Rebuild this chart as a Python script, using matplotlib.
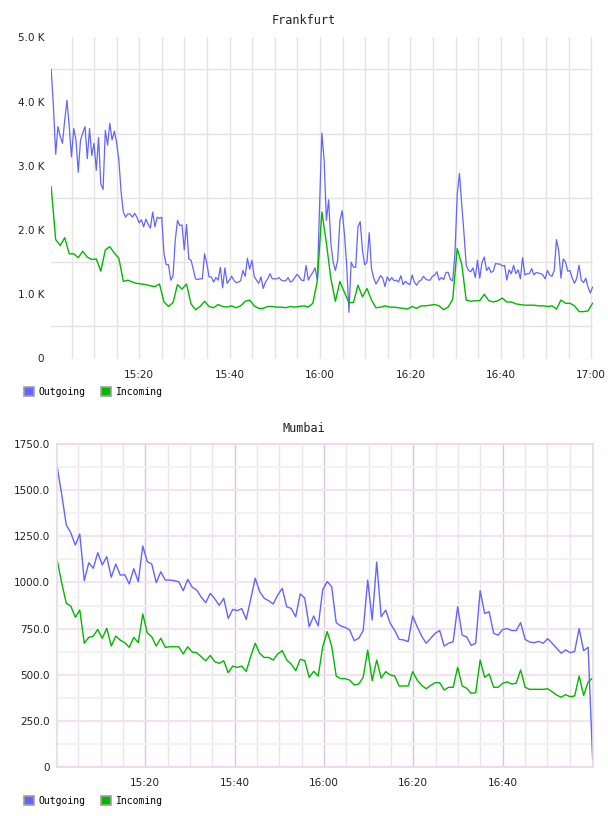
import numpy as np
import matplotlib
matplotlib.use("Agg")
import matplotlib.pyplot as plt
from matplotlib.patches import Patch
from matplotlib.ticker import FuncFormatter

# Frankfurt traffic in K; outgoing sampled every 30 s, incoming every minute
fra_out = [
    4.50, 3.92, 3.18, 3.61, 3.46, 3.35, 3.71, 4.02, 3.61, 3.14,
    3.58, 3.40, 2.90, 3.40, 3.51, 3.61, 3.11, 3.58, 3.16, 3.35,
    2.93, 3.44, 2.72, 2.63, 3.55, 3.32, 3.66, 3.40, 3.54, 3.36,
    3.09, 2.59, 2.28, 2.20, 2.25, 2.25, 2.20, 2.26, 2.20, 2.11,
    2.16, 2.05, 2.17, 2.09, 2.03, 2.28, 2.05, 2.20, 2.18, 2.20,
    1.63, 1.46, 1.46, 1.22, 1.28, 1.84, 2.15, 2.07, 2.08, 1.69,
    2.09,
    1.55, 1.53, 1.39, 1.24, 1.23, 1.24, 1.24, 1.63, 1.48, 1.27,
    1.27, 1.19, 1.26, 1.22, 1.42, 1.10, 1.41, 1.17, 1.22, 1.28,
    1.22, 1.18, 1.19, 1.21, 1.37, 1.28, 1.56, 1.39, 1.53, 1.28,
    1.22, 1.17, 1.27, 1.09, 1.19, 1.24, 1.32, 1.24, 1.24, 1.24,
    1.26, 1.22, 1.21, 1.21, 1.26, 1.19, 1.21, 1.26, 1.31, 1.27,
    1.22, 1.21, 1.45, 1.22, 1.29, 1.34, 1.41, 1.22,
    2.40,
    3.51, 3.09, 2.15, 2.47, 1.79, 1.50, 1.37, 1.53, 2.15, 2.30,
    1.94, 1.45, 0.72, 1.50, 1.42, 1.42, 2.05, 2.13, 1.68, 1.46,
    1.50, 1.96, 1.40, 1.25, 1.16, 1.22, 1.29, 1.25, 1.12, 1.27,
    1.21, 1.26, 1.21, 1.22, 1.19, 1.29, 1.15, 1.20, 1.17, 1.15,
    1.30, 1.19, 1.14, 1.20, 1.22, 1.28, 1.24, 1.22, 1.22, 1.28,
    1.30, 1.35, 1.22, 1.26, 1.23, 1.34, 1.34, 1.23, 1.21,
    1.63, 2.55, 2.88, 2.40, 1.95, 1.45, 1.37, 1.35, 1.41, 1.26,
    1.53, 1.25, 1.50, 1.58, 1.37, 1.42, 1.34, 1.36, 1.48, 1.47,
    1.47, 1.44, 1.45, 1.22, 1.38, 1.32, 1.45, 1.32, 1.38, 1.24,
    1.57, 1.30, 1.32, 1.32, 1.40, 1.30, 1.34, 1.33, 1.32, 1.30,
    1.24, 1.37, 1.30, 1.28, 1.37, 1.85, 1.68, 1.25, 1.55, 1.50,
    1.36, 1.37, 1.25, 1.17, 1.25, 1.45, 1.22, 1.18, 1.25, 1.11,
    1.02, 1.11,
]
fra_in = [
    2.67, 1.85, 1.76, 1.88, 1.63, 1.63, 1.57, 1.67, 1.58, 1.54,
    1.55, 1.36, 1.69, 1.74, 1.64, 1.56, 1.20, 1.22, 1.19, 1.17,
    1.16, 1.15, 1.13, 1.12, 1.16, 0.88, 0.81, 0.87, 1.15, 1.08,
    1.16, 0.85, 0.76, 0.81, 0.89, 0.81, 0.79, 0.84, 0.81, 0.80,
    0.82, 0.79, 0.82, 0.89, 0.91, 0.82, 0.78, 0.78, 0.81, 0.81,
    0.80, 0.80, 0.79, 0.81, 0.80, 0.81, 0.82, 0.80, 0.86, 1.21,
    2.28, 1.80, 1.24, 0.89, 1.20, 1.03, 0.87, 0.87, 1.14, 0.96,
    1.09, 0.91, 0.79, 0.80, 0.82, 0.80, 0.80, 0.79, 0.78, 0.77,
    0.81, 0.78, 0.82, 0.82, 0.83, 0.84, 0.82, 0.76, 0.80, 0.92,
    1.71, 1.47, 0.91, 0.89, 0.90, 0.90, 1.00, 0.90, 0.88, 0.90,
    0.94, 0.88, 0.88, 0.85, 0.84, 0.83, 0.83, 0.83, 0.82, 0.82,
    0.81, 0.82, 0.77, 0.91, 0.86, 0.86, 0.82, 0.73, 0.73, 0.74,
    0.86,
]
fra_t0, fra_t1 = 0.5, 120.3      # minutes after 15:00

# Mumbai, one sample per minute
mum_out = [
    1625, 1475, 1312, 1270, 1203, 1263, 1010, 1107, 1077, 1162,
    1095, 1140, 1028, 1100, 1040, 1042, 992, 1075, 1004, 1198,
    1113, 1100, 999, 1058, 1013, 1013, 1010, 1004, 955, 1017,
    974, 959, 920, 890, 941, 912, 876, 914, 805, 854,
    847, 858, 800, 910, 1023, 950, 914, 901, 883, 932,
    968, 868, 859, 814, 938, 915,
    760, 818, 764, 960, 1005, 977, 782, 764, 756, 742,
    684, 697, 739, 1013, 796, 1111, 814, 850, 778, 740,
    691, 688, 679, 818, 760, 709, 670, 697, 724, 739,
    655, 670, 679, 869, 714, 705, 659, 670, 955, 832,
    841, 724, 714, 745, 750, 739, 739, 782, 691, 677,
    673, 680, 670, 695, 670, 643, 616, 634, 619, 625,
    750, 630, 648, 40,
]
mum_in = [
    1118, 996, 887, 872, 811, 850, 670, 702, 709, 745,
    697, 751, 655, 709, 687, 673, 648, 702, 673, 829,
    727, 705, 655, 697, 648, 651, 651, 651, 612, 651,
    622, 619, 597, 575, 604, 570, 561, 575, 510, 546,
    539, 546, 517, 600, 670, 615, 593, 593, 579, 612,
    630, 579, 557, 521, 583, 576,
    485, 518, 492, 651, 733, 655, 492, 478, 478, 470,
    443, 449, 485, 633, 467, 579, 481, 516, 498, 492,
    438, 438, 438, 516, 470, 442, 423, 442, 456, 456,
    416, 431, 431, 540, 438, 426, 398, 402, 579, 485,
    503, 431, 431, 453, 460, 449, 453, 525, 431, 420,
    420, 420, 420, 423, 407, 389, 377, 391, 380, 384,
    492, 387, 460, 481,
]
mum_t0, mum_t1 = 0.3, 120.15

fra_yticks = [0, 1, 2, 3, 4, 5]
fra_ylabels = ["0", "1.0 K", "2.0 K", "3.0 K", "4.0 K", "5.0 K"]
mum_yticks = [0, 250, 500, 750, 1000, 1250, 1500, 1750]
mum_ylabels = ["0", "250.0", "500.0", "750.0", "1000.0", "1250.0", "1500.0", "1750.0"]

c_out = "#6464ff"
c_in = "#00b800"

W, H = 608, 816
fig = plt.figure(figsize=(W / 100, H / 100), dpi=100)


def px_axes(l, t, r, b):
    return fig.add_axes([l / W, 1 - b / H, (r - l) / W, (b - t) / H])


def hhmm(m, _):
    m = int(round(m))
    return "%d:%02d" % (15 + m // 60, m % 60)


def legend_at(y):
    handles = [Patch(facecolor=c_out, edgecolor="#a0a0a0", lw=1.2, label="Outgoing"),
               Patch(facecolor=c_in, edgecolor="#a0a0a0", lw=1.2, label="Incoming")]
    fig.legend(handles=handles, loc="center left", bbox_to_anchor=(24 / W, 1 - y / H),
               ncol=2, frameon=False, prop={"family": "DejaVu Sans Mono", "size": 7},
               handlelength=1.0, handleheight=1.0, handletextpad=0.5,
               columnspacing=1.6, borderpad=0, borderaxespad=0)


# ---- Frankfurt
ax1 = px_axes(51, 37.3, 593, 358.5)
ax1.plot(np.linspace(fra_t0, fra_t1, len(fra_out)), fra_out, color=c_out, lw=0.9)
ax1.plot(np.linspace(fra_t0, fra_t1, len(fra_in)), fra_in, color=c_in, lw=1.0)
ax1.set_xlim(0.46, 120.4)
ax1.set_ylim(0, 5)
ax1.set_xticks(range(20, 121, 20))
ax1.set_xticks(range(5, 121, 5), minor=True)
ax1.xaxis.set_major_formatter(FuncFormatter(hhmm))
ax1.set_yticks(fra_yticks)
ax1.set_yticklabels(fra_ylabels)
ax1.set_yticks(np.arange(0.5, 5, 1), minor=True)
ax1.grid(True, which="both", axis="x", color="#e4e4e4", lw=1)
ax1.grid(True, which="minor", axis="y", color="#e4e4e4", lw=1)
ax1.set_axisbelow(True)
for s in ax1.spines.values():
    s.set_visible(False)
ax1.tick_params(which="both", length=0, labelsize=7.5, colors="#222222")
ax1.tick_params(axis="x", pad=8)
ax1.tick_params(axis="y", pad=5)
fig.text(0.5, 1 - 20 / H, "Frankfurt", ha="center", va="center",
         family="DejaVu Sans Mono", fontsize=8.5, color="#222222")
legend_at(392)

# ---- Mumbai
ax2 = px_axes(56.7, 444.3, 593.3, 766.7)
ax2.plot(np.linspace(mum_t0, mum_t1, len(mum_out)), mum_out, color=c_out, lw=1.0)
ax2.plot(np.linspace(mum_t0, mum_t1, len(mum_in)), mum_in, color=c_in, lw=1.0)
ax2.set_xlim(0.17, 120.3)
ax2.set_ylim(0, 1750)
ax2.set_xticks(range(20, 101, 20))
ax2.set_xticks([m for m in range(5, 121, 5) if m % 20], minor=True)
ax2.xaxis.set_major_formatter(FuncFormatter(hhmm))
ax2.set_yticks(mum_yticks)
ax2.set_yticklabels(mum_ylabels)
ax2.set_yticks(np.arange(125, 1750, 250), minor=True)
ax2.grid(True, which="major", axis="x", color="#dcc4dc", lw=1)
ax2.grid(True, which="minor", axis="x", color="#ebe2eb", lw=1)
ax2.grid(True, which="major", axis="y", color="#f2e2f2", lw=1.5)
ax2.grid(True, which="minor", axis="y", color="#f2f2f2", lw=1.5)
ax2.set_axisbelow(True)
for s in ax2.spines.values():
    s.set_color("#ecd6ec")
    s.set_linewidth(1.2)
ax2.tick_params(which="both", length=0, labelsize=7.5, colors="#222222")
ax2.tick_params(axis="x", pad=8)
ax2.tick_params(axis="y", pad=5)
fig.text(0.5, 1 - 428 / H, "Mumbai", ha="center", va="center",
         family="DejaVu Sans Mono", fontsize=8.5, color="#222222")
legend_at(800.5)

fig.savefig("out.png", dpi=100)
